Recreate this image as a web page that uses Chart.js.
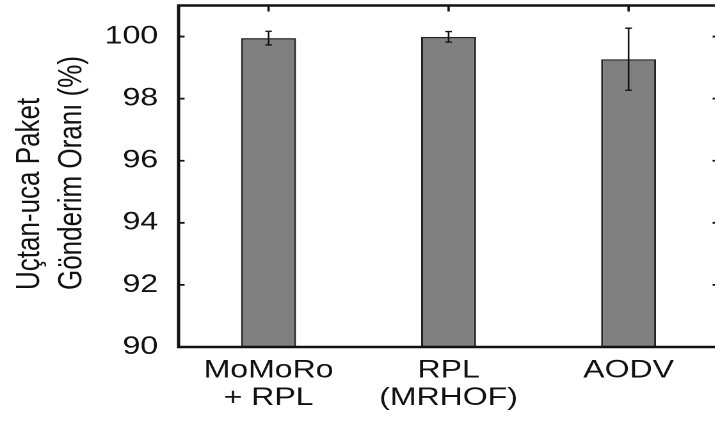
<!DOCTYPE html>
<html>
<head>
<meta charset="utf-8">
<script src="https://cdn.jsdelivr.net/npm/chart.js@4.4.1/dist/chart.umd.min.js"></script>
<style>
  html, body { margin: 0; padding: 0; background: #fff; overflow: hidden; }
  /* the source figure is stretched sideways, so draw it narrow and widen it */
  #wrap { width: 562px; height: 424px; transform: scaleX(1.28); transform-origin: 0 0; }
</style>
</head>
<body>
<div id="wrap"><canvas id="c" width="562" height="424"></canvas></div>
<script>
const categories = [["MoMoRo", "+ RPL"], ["RPL", "(MRHOF)"], "AODV"];
const deliveryRatio = [99.95, 99.99, 99.27];
const deliveryErr = [0.22, 0.17, 1.0];
const yTicks = [90, 92, 94, 96, 98, 100];
const yTitle = ["Uçtan-uca Paket", "Gönderim Oranı (%)"];

const FONT = '"Liberation Sans", Arial, Helvetica, sans-serif';
const INK = "#111";

// gnuplot-style frame: inward ticks, mirrored on the right and top
const framePlugin = {
  id: "frame",
  beforeDatasetsDraw(chart) {
    const { ctx, chartArea: a, scales: { x, y } } = chart;
    ctx.save();
    ctx.strokeStyle = INK;
    ctx.lineWidth = 1.8;
    ctx.beginPath();
    yTicks.forEach((v) => {
      const py = y.getPixelForValue(v);
      ctx.moveTo(a.left, py); ctx.lineTo(a.left + 4.7, py);
      ctx.moveTo(a.right, py); ctx.lineTo(a.right - 4.7, py);
    });
    categories.forEach((_, i) => {
      const px = x.getPixelForValue(i);
      ctx.moveTo(px, a.top); ctx.lineTo(px, a.top + 6);
      ctx.moveTo(px, a.bottom); ctx.lineTo(px, a.bottom - 6);
    });
    ctx.stroke();
    ctx.restore();
  },
  afterDatasetsDraw(chart) {
    const { ctx, chartArea: a, scales: { y } } = chart;
    const bars = chart.getDatasetMeta(0).data;
    ctx.save();
    ctx.strokeStyle = INK;
    ctx.lineWidth = 1.3;
    ctx.beginPath();
    bars.forEach((bar, i) => {
      const hi = y.getPixelForValue(deliveryRatio[i] + deliveryErr[i]);
      const lo = y.getPixelForValue(deliveryRatio[i] - deliveryErr[i]);
      ctx.moveTo(bar.x, hi); ctx.lineTo(bar.x, lo);
      ctx.moveTo(bar.x - 2.6, hi); ctx.lineTo(bar.x + 2.6, hi);
      ctx.moveTo(bar.x - 2.6, lo); ctx.lineTo(bar.x + 2.6, lo);
    });
    ctx.stroke();
    ctx.lineWidth = 2.5;
    ctx.strokeRect(a.left, a.top, a.right - a.left, a.bottom - a.top);
    ctx.restore();
  },
  afterDraw(chart) {
    const { ctx } = chart;
    ctx.save();
    ctx.fillStyle = INK;
    ctx.font = `26px ${FONT}`;
    ctx.textAlign = "left";
    ctx.textBaseline = "alphabetic";
    [30.5, 63.5].forEach((bx, i) => {
      ctx.save();
      ctx.translate(bx, 290);
      ctx.rotate(-Math.PI / 2);
      ctx.fillText(yTitle[i], 0, 0);
      ctx.restore();
    });
    ctx.restore();
  },
};

new Chart(document.getElementById("c"), {
  type: "bar",
  data: {
    labels: categories,
    datasets: [{
      data: deliveryRatio,
      backgroundColor: "#808080",
      borderColor: "#222",
      borderWidth: 1.5,
      barPercentage: 0.305,
      categoryPercentage: 1.0,
    }],
  },
  options: {
    responsive: false,
    devicePixelRatio: 2,
    animation: false,
    layout: { padding: { top: 5.5, right: 0.6, left: 0, bottom: 0 } },
    plugins: { legend: { display: false }, tooltip: { enabled: false } },
    scales: {
      x: {
        offset: true,
        grid: { display: false, drawTicks: false },
        border: { display: false },
        ticks: {
          color: INK,
          font: { family: FONT, size: 25, lineHeight: 1.1 },
          padding: 10,
          maxRotation: 0,
          autoSkip: false,
        },
        afterFit(s) {
          s.height = 77;
          s.paddingTop = s.paddingBottom = s.paddingLeft = s.paddingRight = 0;
        },
      },
      y: {
        min: 90,
        max: 101,
        grid: { display: false, drawTicks: false },
        border: { display: false },
        ticks: { color: INK, font: { family: FONT, size: 25 }, padding: 16 },
        afterBuildTicks(s) { s.ticks = yTicks.map((v) => ({ value: v })); },
        afterFit(s) {
          s.width = 139.5;
          s.paddingTop = s.paddingBottom = s.paddingLeft = s.paddingRight = 0;
        },
      },
    },
  },
  plugins: [framePlugin],
});
</script>
</body>
</html>
